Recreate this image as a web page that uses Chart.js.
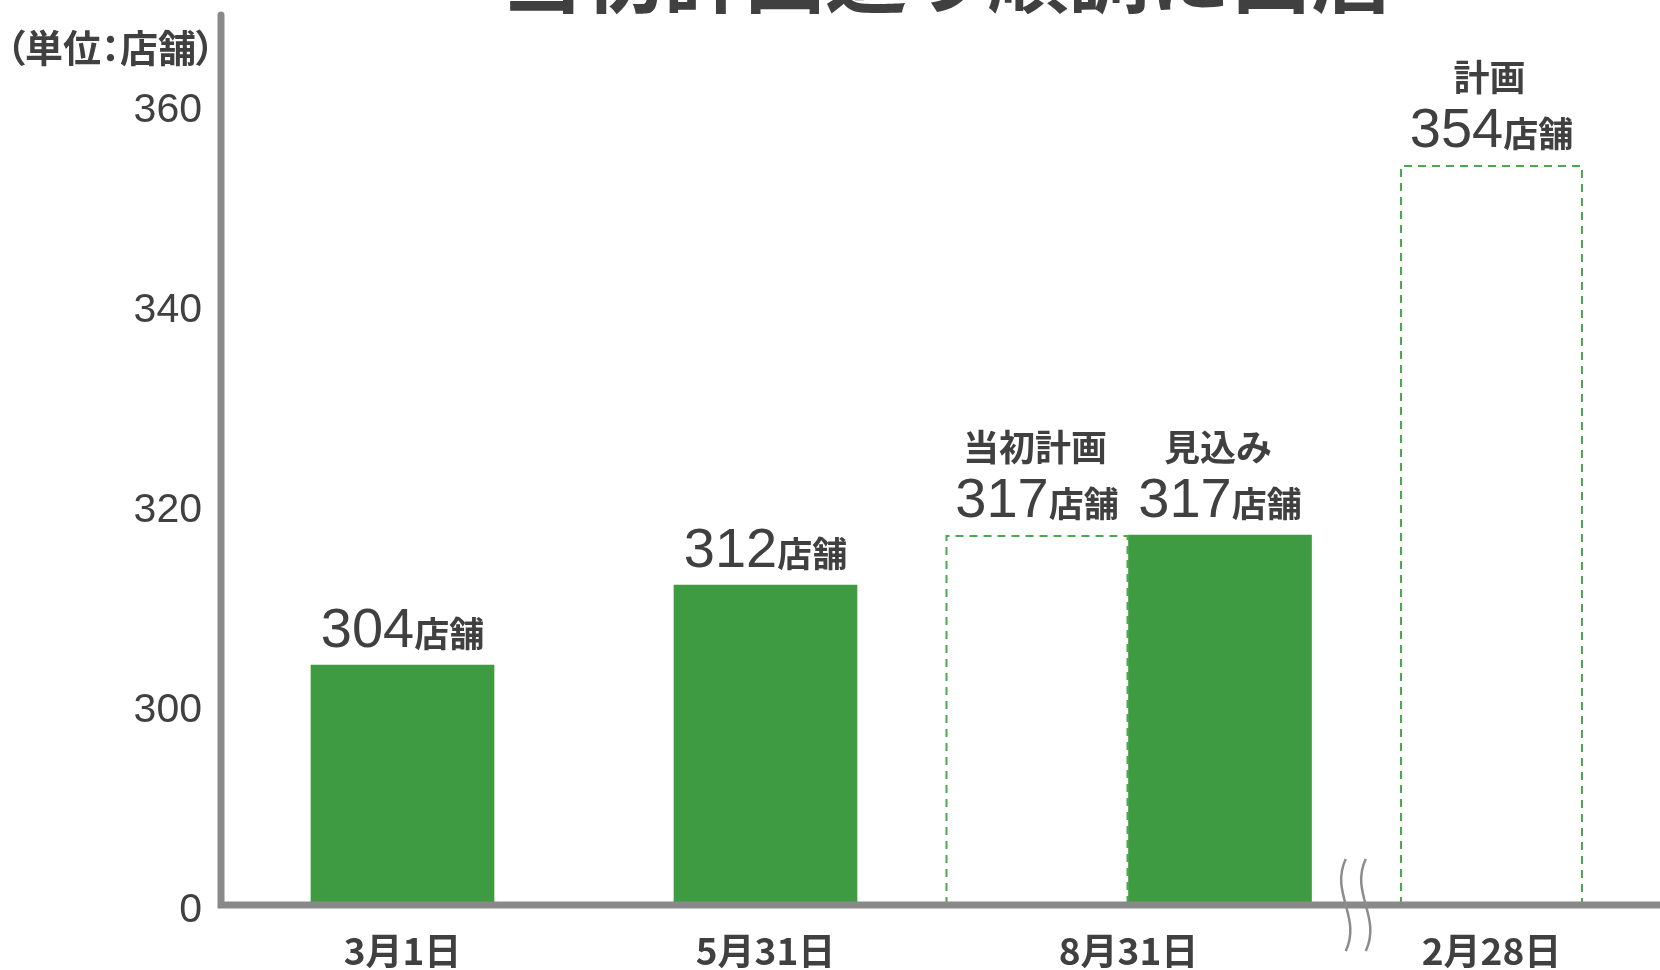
<!DOCTYPE html>
<html lang="ja">
<head>
<meta charset="utf-8">
<title>出店数の推移</title>
<script src="https://cdn.jsdelivr.net/npm/chart.js@4.4.1/dist/chart.umd.min.js"></script>
<style>
    html, body { margin: 0; padding: 0; background: #fff; overflow: hidden; }
    body { width: 1660px; height: 970px; position: relative; }
    #chart-wrap { position: absolute; left: 0; top: 0; width: 1680px; height: 970px; }
    .chart-title {
        position: absolute; top: -70px; left: 221px; width: 1452px;
        text-align: center; white-space: nowrap;
        font: bold 81px/81px "Noto Sans CJK JP", sans-serif; color: #404040;
    }
    .unit-label {
        position: absolute; left: 6px; top: 23px;
        font: bold 38px/46px "Noto Sans CJK JP", sans-serif; color: #404040;
        font-feature-settings: "palt";
    }
</style>
</head>
<body>
<div id="chart-wrap">
    <canvas id="stores-chart" width="1680" height="970"></canvas>
</div>
<div class="chart-title">当初計画通り順調に出店</div>
<div class="unit-label">（単位：店舗）</div>

<script>
// --- Data ---
const categories = ['3月1日', '5月31日', '8月31日', '2月28日'];
const planValues = [null, null, 317, 354];
const actualValues = [304, 312, 317, null];
const planNotes = ['', '', '当初計画', '計画'];
const actualNotes = ['', '', '見込み', ''];
const yTickValues = [280, 300, 320, 340, 360];
const yTickLabels = ['0', '300', '320', '340', '360'];
const valueSuffix = '店舗';
const axisBreakAfter = 2; // wavy break between 8月31日 and 2月28日

const TEXT = '#404040';
const GREEN = '#3e9b41';
const DASH_GREEN = '#4aa84e';
const AXIS = '#898989';
const CJK = '"Noto Sans CJK JP", sans-serif';
const NUM = '"Liberation Sans", Arial, sans-serif';

// --- Dashed outlines for plan bars (drawn under the solid ones) ---
const planOutline = {
    id: 'planOutline',
    beforeDatasetsDraw(chart) {
        const { ctx, chartArea } = chart;
        ctx.save();
        chart.data.datasets.forEach((ds, di) => {
            if (!ds.dashed) return;
            chart.getDatasetMeta(di).data.forEach((bar, i) => {
                if (ds.data[i] == null) return;
                const left = bar.x - bar.width / 2 + 1;
                const right = bar.x + bar.width / 2 - 1;
                const base = Math.min(bar.base, chartArea.bottom);
                ctx.setLineDash([8, 6]);
                ctx.lineWidth = 2;
                ctx.strokeStyle = DASH_GREEN;
                ctx.beginPath();
                ctx.moveTo(left, base);
                ctx.lineTo(left, bar.y + 1);
                ctx.lineTo(right, bar.y + 1);
                ctx.lineTo(right, base);
                ctx.stroke();
            });
        });
        ctx.restore();
    }
};

// --- Axis lines, break mark and value labels ---
const decorations = {
    id: 'decorations',
    afterDatasetsDraw(chart) {
        const { ctx, chartArea } = chart;
        ctx.save();

        // axes
        ctx.strokeStyle = AXIS;
        ctx.lineWidth = 7;
        ctx.lineCap = 'round';
        ctx.beginPath();
        ctx.moveTo(chartArea.left, chartArea.top);
        ctx.lineTo(chartArea.left, chartArea.bottom);
        ctx.lineTo(chartArea.right, chartArea.bottom);
        ctx.stroke();

        // wavy break mark between two categories
        let rightEdge = -Infinity, leftEdge = Infinity;
        chart.data.datasets.forEach((ds, di) => {
            const meta = chart.getDatasetMeta(di);
            const a = meta.data[axisBreakAfter], b = meta.data[axisBreakAfter + 1];
            if (ds.data[axisBreakAfter] != null) rightEdge = Math.max(rightEdge, a.x + a.width / 2);
            if (ds.data[axisBreakAfter + 1] != null) leftEdge = Math.min(leftEdge, b.x - b.width / 2);
        });
        const mid = (rightEdge + leftEdge) / 2;
        const top = chartArea.bottom - 46, bottom = chartArea.bottom + 46;
        ctx.lineWidth = 2.5;
        ctx.lineCap = 'butt';
        ctx.strokeStyle = '#8c8c8c';
        [mid - 10, mid + 10].forEach(x => {
            ctx.beginPath();
            ctx.moveTo(x, top);
            ctx.bezierCurveTo(x - 16, top + 34, x + 16, bottom - 34, x, bottom);
            ctx.stroke();
        });

        // value labels
        ctx.fillStyle = TEXT;
        ctx.textBaseline = 'alphabetic';
        chart.data.datasets.forEach((ds, di) => {
            chart.getDatasetMeta(di).data.forEach((bar, i) => {
                const v = ds.data[i];
                if (v == null) return;
                const baseY = bar.y - 18;
                ctx.font = `56px ${NUM}`;
                const numW = ctx.measureText(String(v)).width;
                ctx.font = `bold 35px ${CJK}`;
                const sufW = ctx.measureText(valueSuffix).width;
                const startX = bar.x - (numW + sufW) / 2;
                ctx.textAlign = 'left';
                ctx.font = `56px ${NUM}`;
                ctx.fillText(String(v), startX, baseY);
                ctx.font = `bold 35px ${CJK}`;
                ctx.fillText(valueSuffix, startX + numW, baseY);
                const note = ds.notes[i];
                if (note) {
                    ctx.textAlign = 'center';
                    ctx.font = `bold 36px ${CJK}`;
                    ctx.fillText(note, bar.x - 2, baseY - 56);
                }
            });
        });
        ctx.restore();
    }
};

const ctx = document.getElementById('stores-chart').getContext('2d');
new Chart(ctx, {
    type: 'bar',
    data: {
        labels: categories,
        datasets: [
            { label: '計画', data: planValues, backgroundColor: 'rgba(0,0,0,0)', borderWidth: 0, dashed: true, notes: planNotes },
            { label: '実績・見込み', data: actualValues, backgroundColor: GREEN, borderWidth: 0, notes: actualNotes }
        ]
    },
    options: {
        responsive: false,
        animation: false,
        layout: { padding: { top: 15, right: 7, left: 0, bottom: 0 } },
        datasets: { bar: { barThickness: 183, skipNull: true } },
        plugins: {
            legend: { display: false },
            tooltip: { enabled: false }
        },
        scales: {
            x: {
                grid: { display: false, drawTicks: false },
                border: { display: false },
                ticks: {
                    color: TEXT,
                    font: { family: CJK, size: 37, weight: 'bold' },
                    padding: 24,
                    maxRotation: 0,
                    autoSkip: false
                },
                afterFit: scale => {
                    scale.height = 65;
                    scale.paddingLeft = 0;
                    scale.paddingRight = 0;
                }
            },
            y: {
                min: 280,
                max: 369,
                grid: { display: false, drawTicks: false },
                border: { display: false },
                afterBuildTicks: scale => {
                    scale.ticks = yTickValues.map(v => ({ value: v }));
                },
                ticks: {
                    color: TEXT,
                    font: { family: NUM, size: 41 },
                    padding: 19,
                    labelOffset: 6,
                    autoSkip: false,
                    callback: (value, index) => yTickLabels[index]
                },
                afterFit: scale => {
                    scale.width = 221;
                    scale.paddingTop = 0;
                    scale.paddingBottom = 0;
                }
            }
        }
    },
    plugins: [planOutline, decorations]
});
</script>
</body>
</html>
